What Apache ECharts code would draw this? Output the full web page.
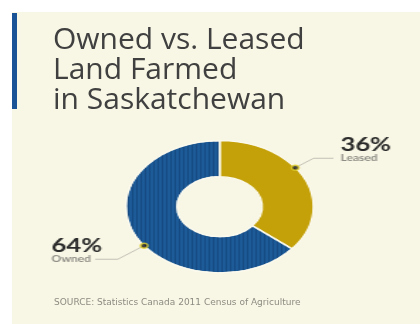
<!DOCTYPE html>
<html>
<head>
<meta charset="utf-8">
<script src="https://cdn.jsdelivr.net/npm/echarts@6/dist/echarts.min.js"></script>
<style>
  html, body { margin: 0; padding: 0; background: #ffffff; }
  #wrap { position: relative; width: 420px; height: 324px; overflow: hidden; }
  #bg { position: absolute; left: 0; top: 0; width: 420px; height: 324px; }
  #pie { position: absolute; left: 0; top: 0; width: 296px; height: 324px;
         transform: scaleX(1.41892); transform-origin: 0 0; }
</style>
</head>
<body>
<div id="wrap"><div id="bg"></div><div id="pie"></div></div>
<script>
// ---- data ----
const categories = ['Leased', 'Owned'];
const values = [36, 64];
const sliceColors = ['#c4a109', '#1c5a98'];
const titleLines = ['Owned vs. Leased', 'Land Farmed', 'in Saskatchewan'];
const sourceText = 'SOURCE: Statistics Canada 2011 Census of Agriculture';

// ---- background chart: panel, accent bar, title, source ----
const bg = echarts.init(document.getElementById('bg'), null, { renderer: 'canvas' });
bg.setOption({
  animation: false,
  backgroundColor: '#ffffff',
  graphic: [
    { type: 'rect', left: 12, top: 12, shape: { width: 408, height: 312 }, style: { fill: '#f8f6e4' }, z: 0 },
    { type: 'rect', left: 12, top: 13, shape: { width: 5, height: 96 }, style: { fill: '#1a5396' }, z: 1 }
  ],
  title: [
    {
      text: titleLines.join('\n'),
      left: 53, top: 25, padding: 0,
      textStyle: { fontFamily: 'Open Sans', fontWeight: 400, fontSize: 30, lineHeight: 30, color: '#404040' }
    },
    {
      text: sourceText,
      left: 54, top: 298, padding: 0,
      textStyle: { fontFamily: 'DejaVu Sans', fontWeight: 400, fontSize: 9, color: '#8c8c82' }
    }
  ]
});

// ---- pie chart (drawn in a horizontally stretched layer) ----
const total = values.reduce((a, b) => a + b, 0);
let acc = 0;
const dotData = values.map(v => { const mid = acc + v / 2; acc += v; return [1, mid / total * 100]; });

const center = [154.8, 206.7];
const stripeDecal = { symbol: 'rect', symbolSize: 1, color: 'rgba(10,40,80,0.3)', dashArrayX: [1, 2], dashArrayY: [4, 0], rotation: 0 };
const pie = echarts.init(document.getElementById('pie'), null, { renderer: 'canvas' });
pie.setOption({
  animation: false,
  polar: { center: center, radius: [0, 66] },
  angleAxis: { type: 'value', min: 0, max: 100, startAngle: 101, clockwise: true, show: false },
  radiusAxis: { type: 'value', min: 0, max: 1, show: false },
  series: [
    {
      type: 'pie',
      center: center,
      radius: [30, 66],
      startAngle: 90,
      clockwise: true,
      silent: true,
      avoidLabelOverlap: false,
      label: { show: false },
      labelLine: { show: false },
      itemStyle: { borderColor: '#fbfaee', borderWidth: 1.2 },
      data: categories.map((c, i) => {
        const style = { color: sliceColors[i] };
        if (i === 1) style.decal = stripeDecal;
        return { name: c, value: values[i], itemStyle: style };
      })
    },
    {
      type: 'pie',
      center: center,
      radius: [30, 66],
      startAngle: 101,
      clockwise: true,
      silent: true,
      avoidLabelOverlap: false,
      itemStyle: { color: 'transparent' },
      emphasis: { disabled: true },
      labelLine: { show: true, length: 16, length2: 14, lineStyle: { color: '#c2c1b6', width: 1 } },
      label: {
        show: true,
        position: 'outer',
        formatter: '{p|{c}%}\n{n|{b}}',
        padding: [0, 0, 16, 0],
        distanceToLabelLine: 5,
        rich: {
          p: { fontFamily: 'Lato', fontWeight: 'bold', fontSize: 18, lineHeight: 16, color: '#2a2a2a', align: 'left' },
          n: { fontFamily: 'Lato', fontWeight: 'bold', fontSize: 8.5, lineHeight: 10, color: '#8e8e86', align: 'left' }
        }
      },
      data: categories.map((c, i) => i === 1
        ? { name: c, value: values[i], labelLine: { length: 23, length2: 16 }, label: { distanceToLabelLine: -5 } }
        : { name: c, value: values[i] })
    },
    {
      type: 'scatter',
      coordinateSystem: 'polar',
      silent: true,
      symbol: 'circle',
      symbolSize: 5,
      itemStyle: { color: '#151515', borderColor: '#e6d431', borderWidth: 1.5 },
      data: dotData
    }
  ]
});
</script>
</body>
</html>
